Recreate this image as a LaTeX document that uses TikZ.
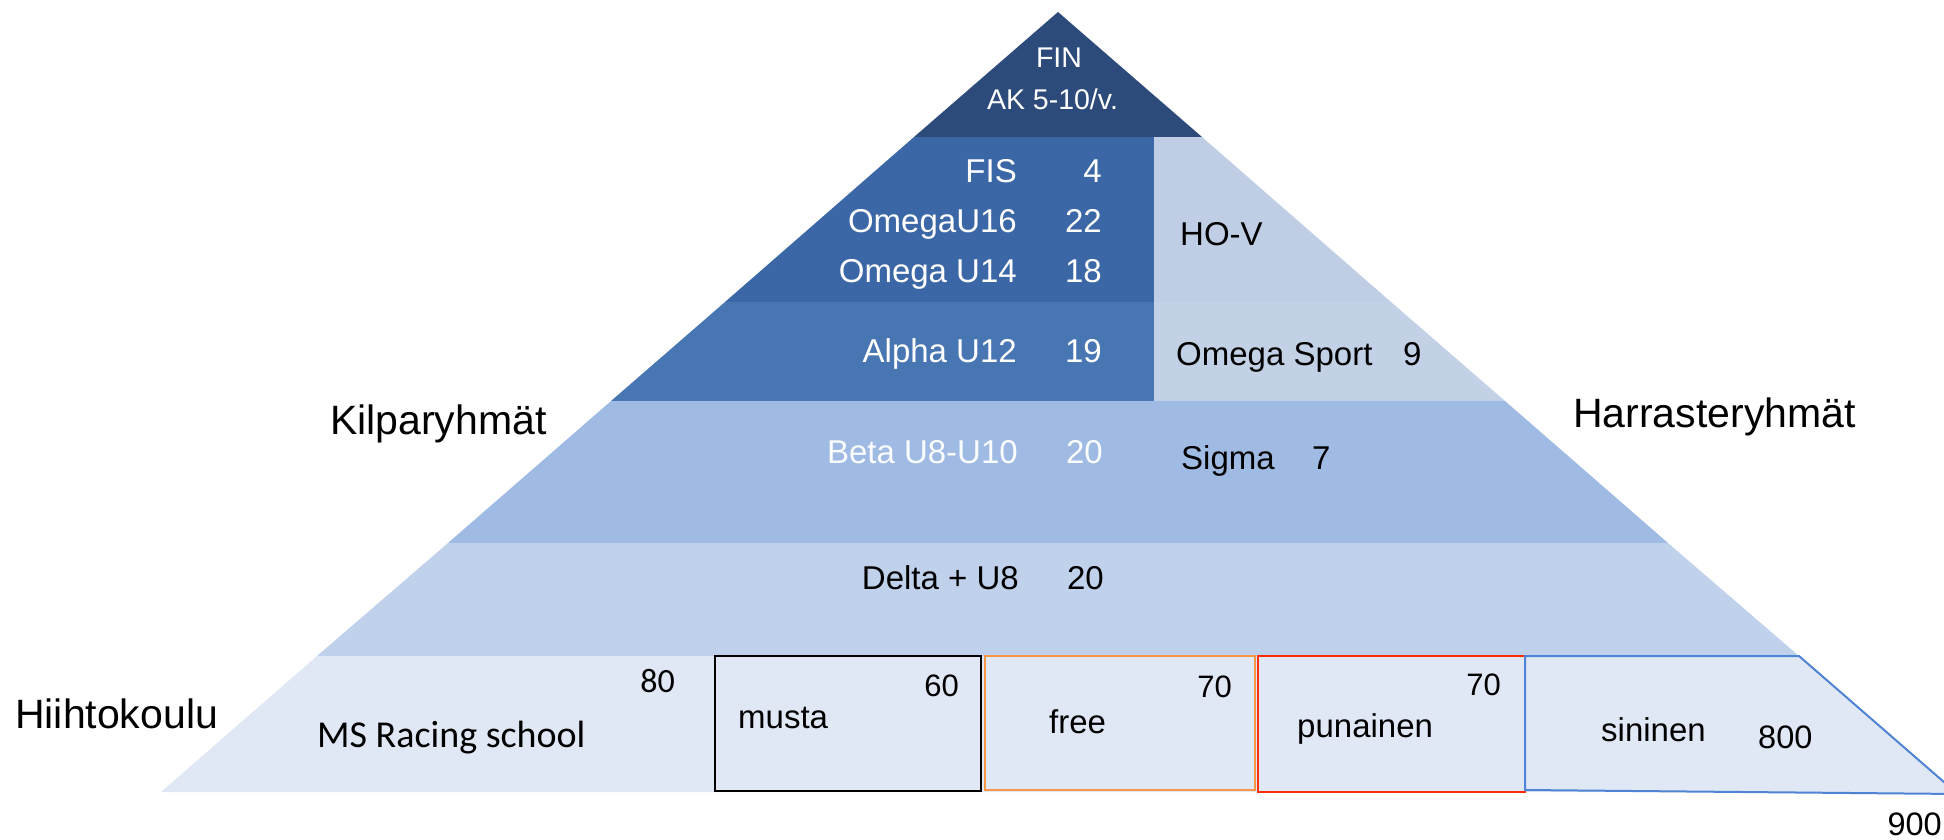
\documentclass[tikz,border=0pt]{standalone}
\usepackage{fontspec}
\setmainfont{Liberation Sans}
\newfontfamily\calib{Carlito}
\definecolor{cNavy}{RGB}{44,75,122}
\definecolor{cDarkA}{RGB}{59,103,166}
\definecolor{cDarkB}{RGB}{72,118,178}
\definecolor{cLightA}{RGB}{191,206,228}
\definecolor{cLightB}{RGB}{194,209,230}
\definecolor{cBandD}{RGB}{160,187,227}
\definecolor{cBandE}{RGB}{192,209,235}
\definecolor{cBandF}{RGB}{224,232,245}
\definecolor{cOrange}{RGB}{247,150,70}
\definecolor{cRed}{RGB}{255,45,10}
\definecolor{cBlueLine}{RGB}{79,131,212}
\tikzset{
  lbl/.style={inner sep=0pt,font=\fontsize{33}{38}\selectfont},
  wlbl/.style={lbl,text=white},
  side/.style={inner sep=0pt,font=\fontsize{41}{46}\selectfont},
  num/.style={inner sep=0pt,font=\fontsize{31}{36}\selectfont},
}
\begin{document}
\begin{tikzpicture}[x=1pt,y=-1pt]
\useasboundingbox (0,0) rectangle (1944,839);
% bands
\fill[cNavy] (1058,12) -- (1202,137) -- (914,137) -- cycle;
\fill[cDarkA] (914,137) -- (1154,137) -- (1154,302) -- (725,302) -- cycle;
\fill[cLightA] (1154,137) -- (1202,137) -- (1391,302) -- (1154,302) -- cycle;
\fill[cDarkB] (725,302) -- (1154,302) -- (1154,401) -- (611,401) -- cycle;
\fill[cLightB] (1154,302) -- (1391,302) -- (1505,401) -- (1154,401) -- cycle;
\fill[cBandD] (611,401) -- (1505,401) -- (1668,543) -- (448,543) -- cycle;
\fill[cBandE] (448,543) -- (1668,543) -- (1799,656) -- (317,656) -- cycle;
\fill[cBandF] (317,656) -- (1799,656) -- (1955,792) -- (161,792) -- cycle;
% bottom boxes
\draw[black,line width=2pt,fill=cBandF] (715,656) rectangle (981,791);
\draw[cOrange,line width=2pt,fill=cBandF] (985,656) rectangle (1255,790);
\draw[cRed,line width=2.5pt,fill=cBandF] (1258,656) rectangle (1525,792);
\draw[cBlueLine,line width=2pt,fill=cBandF] (1525,656) -- (1799,656) -- (1960,796) -- (1960,794) -- (1525,790) -- cycle;
% top texts
\node[wlbl,anchor=base,font=\fontsize{28.5}{32}\selectfont] (fin) at (1059,67) {FIN};
\node[wlbl,anchor=base,font=\fontsize{28.5}{32}\selectfont] (ak) at (1052.5,109) {AK 5-10/v.};
% competition groups
\node[wlbl,anchor=base east] (fis) at (1017,182) {FIS};
\node[wlbl,anchor=base east] (fisn) at (1102,182) {4};
\node[wlbl,anchor=base east] (o16) at (1017,232) {OmegaU16};
\node[wlbl,anchor=base east] (o16n) at (1102,232) {22};
\node[wlbl,anchor=base east] (o14) at (1017,282) {Omega U14};
\node[wlbl,anchor=base east] (o14n) at (1102,282) {18};
\node[wlbl,anchor=base east] (alpha) at (1017,362) {Alpha U12};
\node[wlbl,anchor=base east] (alphan) at (1102,362) {19};
\node[wlbl,anchor=base east,text=white!95!cBandD] (beta) at (1018,463) {Beta U8-U10};
\node[wlbl,anchor=base east,text=white!95!cBandD] (betan) at (1103,463) {20};
\node[lbl,anchor=base east] (delta) at (1019,589) {Delta + U8};
\node[lbl,anchor=base east] (deltan) at (1104,589) {20};
% hobby groups
\node[lbl,anchor=base west] (hov) at (1180,245) {HO-V};
\node[lbl,anchor=base west] (osport) at (1176,365) {Omega Sport};
\node[lbl,anchor=base west] (osportn) at (1403,365) {9};
\node[lbl,anchor=base west] (sigma) at (1181,469) {Sigma};
\node[lbl,anchor=base west] (sigman) at (1312,469) {7};
% side labels
\node[side,anchor=base west] (kilpa) at (330,434) {Kilparyhmät};
\node[side,anchor=base west] (harr) at (1573,427) {Harrasteryhmät};
\node[side,anchor=base west] (hiihto) at (15,728) {Hiihtokoulu};
% ski school
\node[inner sep=0pt,anchor=base west,font=\calib\fontsize{38}{42}\selectfont] (ms) at (317,747) {MS Racing school};
\node[inner sep=0pt,anchor=base east,font=\calib\fontsize{34}{38}\selectfont] (msn) at (675,692) {80};
\node[lbl,anchor=base west] (musta) at (738,728) {musta};
\node[num,anchor=base east] (mustan) at (959,696) {60};
\node[lbl,anchor=base west] (free) at (1049,733) {free};
\node[num,anchor=base east] (freen) at (1232,697) {70};
\node[lbl,anchor=base west] (puna) at (1297,737) {punainen};
\node[num,anchor=base east] (punan) at (1501,695) {70};
\node[lbl,anchor=base west] (sini) at (1601,741) {sininen};
\node[num,anchor=base west,font=\fontsize{32.5}{36}\selectfont] (sinin) at (1758,748) {800};
\node[num,anchor=base east,font=\fontsize{32.5}{36}\selectfont] (total) at (1942,835) {900};
\end{tikzpicture}
\end{document}
